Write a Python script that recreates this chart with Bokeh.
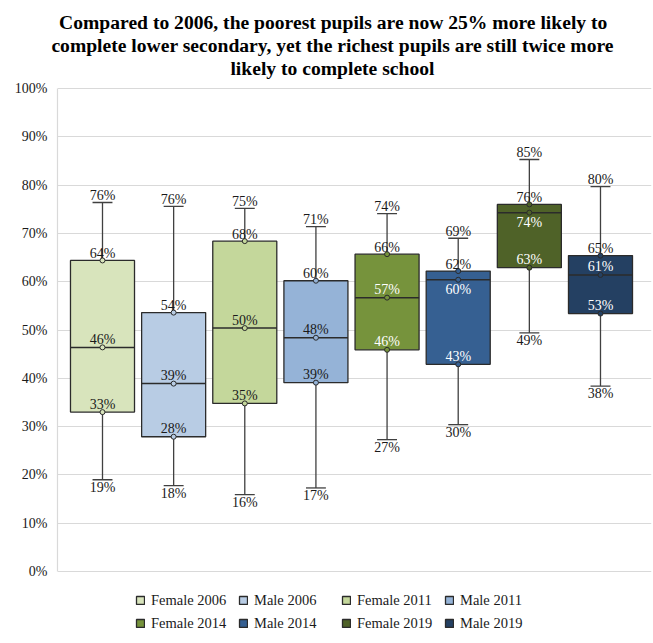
from bokeh.plotting import figure
from bokeh.models import (ColumnDataSource, Range1d, FixedTicker, NumeralTickFormatter,
                          Legend, LegendItem, Title)
from bokeh.transform import dodge
from bokeh.core.properties import value
from bokeh.embed import file_html
from bokeh.resources import INLINE

# ---------------- data (percent) ----------------
groups = ["Female 2006", "Male 2006", "Female 2011", "Male 2011",
          "Female 2014", "Male 2014", "Female 2019", "Male 2019"]
mins = [19.0, 17.8, 15.9, 17.3, 27.3, 30.4, 49.4, 38.4]
q1s = [33.0, 27.9, 34.8, 39.1, 45.9, 42.9, 62.9, 53.4]
meds = [46.4, 38.9, 50.4, 48.4, 56.7, 60.4, 74.3, 61.4]
q3s = [64.4, 53.6, 68.4, 60.2, 65.7, 62.2, 76.0, 65.4]
maxs = [76.4, 75.6, 75.2, 71.4, 74.1, 69.0, 85.3, 79.7]
y_ticks = [0, 10, 20, 30, 40, 50, 60, 70, 80, 90, 100]
title_lines = ["Compared to 2006, the poorest pupils are now 25% more likely to",
               "complete lower secondary, yet the richest pupils are still twice more",
               "likely to complete school"]

# ---------------- styles ----------------
colors = ["#D8E4BC", "#B8CCE4", "#C4D79B", "#95B3D7",
          "#76933C", "#366092", "#4F6228", "#244062"]
inner_text = ["#1a1a1a"] * 4 + ["#ffffff"] * 4
FONT = "Liberation Serif"
TXT = "#1a1a1a"
title_offsets = [1.6, -6.1, 172.9]   # left offsets that centre each line near x=332

xs = list(range(1, len(groups) + 1))
src = ColumnDataSource(dict(
    x=xs, group=groups, color=colors,
    lo=[v / 100 for v in mins], q1=[v / 100 for v in q1s], med=[v / 100 for v in meds],
    q3=[v / 100 for v in q3s], hi=[v / 100 for v in maxs]))

# frame: x 57..651, y 78..643 ; 0% at y=571, 100% at y=88
p = figure(width=653, height=643, output_backend="svg", toolbar_location=None, tools="",
           x_range=Range1d(0.3675, 8.717), y_range=Range1d(-72 / 483, 1 + 10 / 483),
           x_axis_location=None,
           min_border_left=57, min_border_right=2, min_border_top=78, min_border_bottom=0)
p.outline_line_color = None
p.title.text = ""

for line, off in reversed(list(zip(title_lines, title_offsets))):
    p.add_layout(Title(text=line, align="left", offset=off, standoff=0,
                       vertical_align="bottom", text_font=FONT, text_font_style="bold",
                       text_font_size="19.6px", text_color="black"), "above")

p.xgrid.grid_line_color = None
p.ygrid.grid_line_color = "#d9d9d9"
p.ygrid.grid_line_width = 1.2
ax = p.yaxis[0]
ax.bounds = (0, 1)
ax.ticker = FixedTicker(ticks=[v / 100 for v in y_ticks])
ax.formatter = NumeralTickFormatter(format="0%")
ax.axis_line_color = "#d9d9d9"
ax.axis_line_width = 1.2
ax.major_tick_line_color = None
ax.minor_tick_line_color = None
ax.major_tick_out = 0
ax.major_tick_in = 0
ax.major_label_standoff = 10
ax.major_label_text_font = FONT
ax.major_label_text_font_size = "14px"
ax.major_label_text_color = TXT

WH = "#404040"
p.segment(x0="x", x1="x", y0="q3", y1="hi", source=src, line_color=WH, line_width=1.3)
p.segment(x0="x", x1="x", y0="q1", y1="lo", source=src, line_color=WH, line_width=1.3)
p.segment(x0=dodge("x", -0.14, range=p.x_range), x1=dodge("x", 0.14, range=p.x_range),
          y0="hi", y1="hi", source=src, line_color=WH, line_width=1.3)
p.segment(x0=dodge("x", -0.14, range=p.x_range), x1=dodge("x", 0.14, range=p.x_range),
          y0="lo", y1="lo", source=src, line_color=WH, line_width=1.3)
boxes = p.vbar(x="x", width=0.9, bottom="q1", top="q3", source=src,
               fill_color="color", line_color="#2b2b2b", line_width=1.3)
p.segment(x0=dodge("x", -0.45, range=p.x_range), x1=dodge("x", 0.45, range=p.x_range),
          y0="med", y1="med", source=src, line_color="#2b2b2b", line_width=1.5)
for col in ["q1", "med", "q3"]:
    p.scatter(x="x", y=col, source=src, size=5, fill_color="color",
              line_color="#2b2b2b", line_width=1)

# ---------------- value labels ----------------
lx, ly, lt, lb, lo, lc = [], [], [], [], [], []
def add(x, v, base, off, c):
    lx.append(x); ly.append(v / 100); lt.append(f"{v:.0f}%")
    lb.append(base); lo.append(off); lc.append(c)

for i, x in enumerate(xs):
    add(x, maxs[i], "alphabetic", -7, TXT)
    add(x, mins[i], "top", 0, TXT)
    add(x, q3s[i], "alphabetic", -7, TXT)
    if q3s[i] - meds[i] < 3:
        add(x, meds[i], "top", 2, inner_text[i])
    else:
        add(x, meds[i], "alphabetic", -8, inner_text[i])
    add(x, q1s[i], "alphabetic", -8, inner_text[i])

lsrc = ColumnDataSource(dict(x=lx, y=ly, text=lt, base=lb, off=lo, color=lc))
p.text(x="x", y="y", text="text", source=lsrc, text_align="center",
       text_baseline="base", y_offset="off", text_color="color",
       text_font=value(FONT), text_font_size="14px")

# ---------------- legend ----------------
items = [LegendItem(label=g, renderers=[boxes], index=i) for i, g in enumerate(groups)]
lg = Legend(items=items, location=(78, 10), orientation="horizontal", ncols=4,
            padding=0, margin=0, spacing=3, glyph_width=10, glyph_height=10,
            label_height=20, label_width=84, label_standoff=6, label_text_font=FONT,
            label_text_font_size="14.5px", label_text_color=TXT,
            background_fill_alpha=0, border_line_color=None)
p.add_layout(lg, "center")

open("out.html", "w").write(file_html(p, INLINE))
